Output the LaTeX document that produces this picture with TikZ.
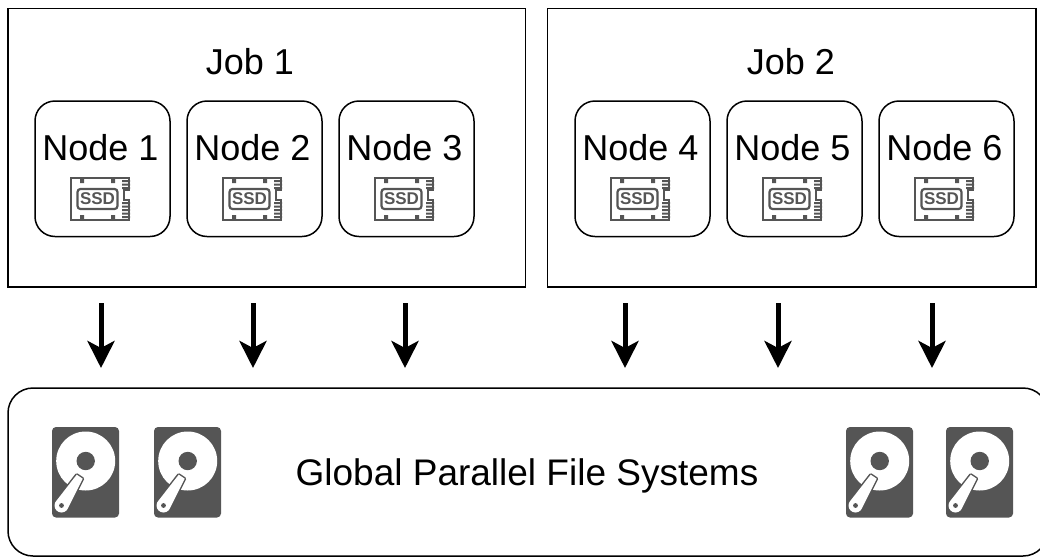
\documentclass[tikz,border=0pt]{standalone}
\usepackage{fontspec}
\setmainfont{Liberation Sans}
\usetikzlibrary{arrows.meta}
\definecolor{icon}{HTML}{555555}
\tikzset{
  x=1pt,y=-1pt,
  jobbox/.style={draw,line width=1.5pt,outer sep=0pt,minimum width=#1,minimum height=278.5pt,anchor=north west,inner sep=0},
  nodebox/.style={draw,line width=1.5pt,outer sep=0pt,rounded corners=20pt,minimum width=135pt,minimum height=135.5pt,anchor=north west,inner sep=0},
  fsbox/.style={draw,line width=1.5pt,outer sep=0pt,rounded corners=25pt,minimum width=1040pt,minimum height=168pt,anchor=north west,inner sep=0},
  nodelabel/.style={font=\fontsize{36}{40}\selectfont,anchor=base,inner sep=0},
  biglabel/.style={font=\fontsize{37}{40}\selectfont,anchor=base,inner sep=0},
  flow/.style={line width=5pt,-{Stealth[length=27pt,width=27pt,inset=7pt]}},
  ssd/.pic={
    \draw[icon,line width=2.2pt,line join=miter] (1,0) -- (59,0) -- (59,12) -- (54,12) -- (54,22) -- (59,22) -- (59,42) -- (1,42) -- cycle;
    \draw[icon,line width=2.2pt,rounded corners=3pt] (7.5,11) rectangle (47.5,31);
    \fill[icon] (10,0) rectangle (14,5) (41,0) rectangle (45,5) (10,37) rectangle (14,42) (41,37) rectangle (45,42);
    \fill[icon] (52,2) rectangle (60,4) (52,5.5) rectangle (60,7.5) (52,9) rectangle (60,11) (52,24) rectangle (60,26) (52,27.5) rectangle (60,29.5) (52,31) rectangle (60,33) (52,34.5) rectangle (60,36.5) (52,38) rectangle (60,40);
    \node[icon,font=\bfseries\fontsize{17}{18}\selectfont,inner sep=0] at (27.5,21) {SSD};
  },
  hdd/.pic={
    \fill[icon,rounded corners=4pt] (0,0) rectangle (67,90.5);
    \fill[white] (33.7,34) circle[radius=29.5];
    \fill[icon] (33.7,34) circle[radius=9.2];
    \draw[icon,line width=3pt,line join=round] (24.7,47.7) -- (30.7,51.7) -- (15.4,82.2) -- (3.6,74.8) -- cycle (9.5,78.5) circle[radius=7];
    \fill[white] (24.7,47.7) -- (30.7,51.7) -- (15.4,82.2) -- (3.6,74.8) -- cycle (9.5,78.5) circle[radius=7];
    \fill[icon] (9.5,78.5) circle[radius=2.4];
  }
}
\begin{document}
\begin{tikzpicture}
\useasboundingbox (0,0) rectangle (1040,557);
\node[jobbox=517.5pt] (job1) at (8,8.5) {};
\node[jobbox=488.5pt] (job2) at (547.5,8.5) {};
\node[nodelabel] (job1t) at (250,74) {Job 1};
\node[nodelabel] (job2t) at (791,74) {Job 2};
\foreach \i/\x/\t in {1/35/101,2/187/101,3/339/101,4/575/101,5/727/101,6/879/101}{
  \node[nodebox] (n\i) at (\x,\t) {};
  \node[nodelabel] (n\i t) at (\x+65.5,160.5) {Node \i};
  \pic at (\x+35,178) {ssd};
}
\node[fsbox] (fs) at (8,388) {};
\node[biglabel] (fst) at (527,485) {Global Parallel File Systems};
\foreach \x in {52,154,846,946}{
  \pic at (\x,427) {hdd};
}
\foreach \i/\x in {1/101,2/253,3/405,4/625,5/778,6/932}{
  \coordinate (a\i) at (\x,303);
  \coordinate (b\i) at (\x,368);
  \draw[flow] (a\i) -- (b\i);
}
\end{tikzpicture}
\end{document}
